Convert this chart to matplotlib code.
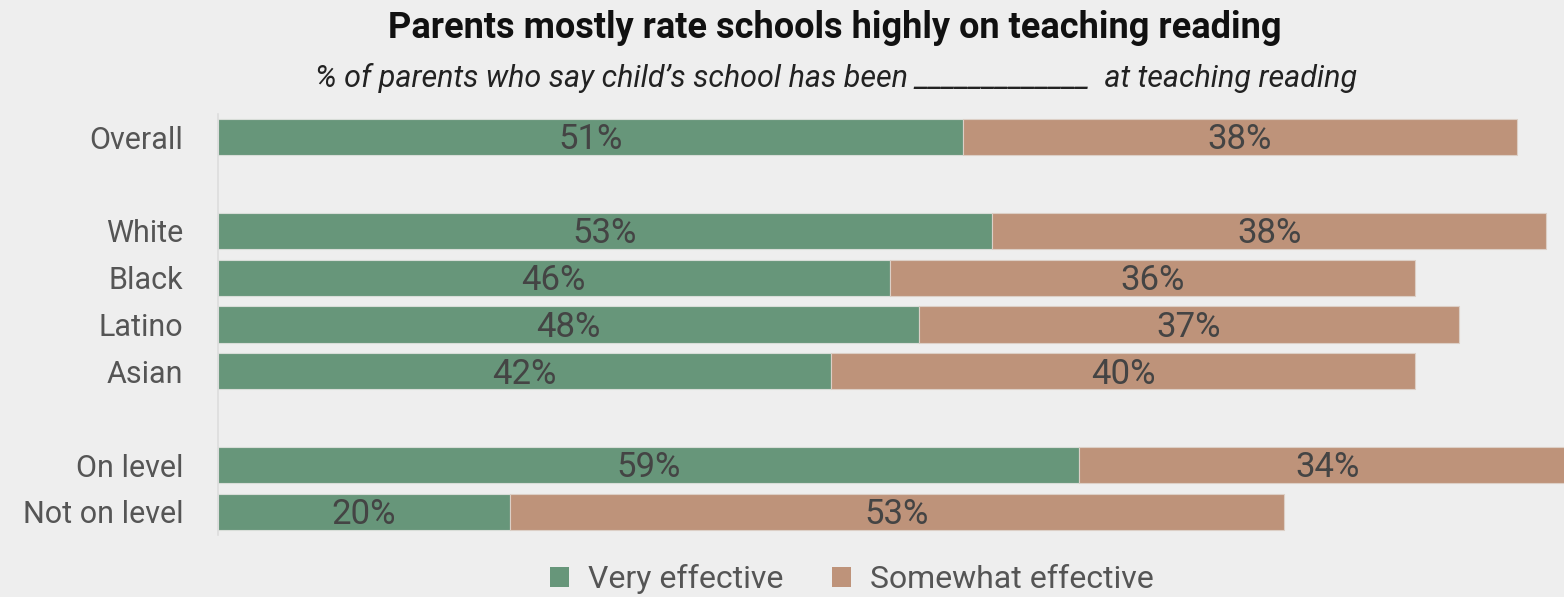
import matplotlib
matplotlib.use("Agg")
import matplotlib.pyplot as plt
from matplotlib.patches import Patch

# --- data ---
categories = ["Overall", "", "White", "Black", "Latino", "Asian", "", "On level", "Not on level"]
very_effective = [51, None, 53, 46, 48, 42, None, 59, 20]
somewhat_effective = [38, None, 38, 36, 37, 40, None, 34, 53]
series_names = ["Very effective", "Somewhat effective"]

title = "Parents mostly rate schools highly on teaching reading"
subtitle = "% of parents who say child\u2019s school has been _____________  at teaching reading"

# --- style ---
plt.rcParams["font.family"] = ["Roboto", "DejaVu Sans"]

BG = "#EEEEEE"
GREEN = "#67967A"
TAN = "#BE937A"
LABEL = "#555555"
VALUE = "#444444"

fig = plt.figure(figsize=(15.64, 5.97), dpi=100, facecolor=BG)
ax = fig.add_axes([218 / 1564, 0.1032, 1 - 218 / 1564, 0.7065], facecolor=BG)

rows = [i for i, v in enumerate(very_effective) if v is not None]
v1 = [very_effective[i] for i in rows]
v2 = [somewhat_effective[i] for i in rows]

bh = 0.77
ax.barh(rows, v1, height=bh, color=GREEN, edgecolor="#D8DDD8", linewidth=0.8)
ax.barh(rows, v2, left=v1, height=bh, color=TAN, edgecolor="#DCCFC6", linewidth=0.8)

# value labels centred in each segment
for r, a, b in zip(rows, v1, v2):
    ax.text(a / 2, r + 0.06, f"{a}%", ha="center", va="center",
            fontsize=25, color=VALUE)
    ax.text(a + b / 2, r + 0.06, f"{b}%", ha="center", va="center",
            fontsize=25, color=VALUE)

ax.set_xlim(0, 92.2)
ax.set_ylim(8.5, -0.5)
ax.set_yticks(rows)
ax.set_yticklabels([categories[i] for i in rows], fontsize=22, color=LABEL)
ax.tick_params(axis="y", length=0, pad=25)
ax.set_xticks([])
for s in ("top", "right", "bottom"):
    ax.spines[s].set_visible(False)
ax.spines["left"].set_color("#DDDDDD")
ax.spines["left"].set_linewidth(1.2)

fig.text(835 / 1564, 1 - 28 / 597, title, ha="center", va="center",
         fontsize=26, fontweight="bold", color="#111111")
fig.text(836 / 1564, 1 - 78 / 597, subtitle, ha="center", va="center",
         fontsize=22, fontstyle="italic", color="#222222")

handles = [Patch(facecolor=GREEN, edgecolor="none"), Patch(facecolor=TAN, edgecolor="none")]
fig.legend(handles, series_names, loc="center", bbox_to_anchor=(852 / 1564, 1 - 579 / 597),
           ncol=2, frameon=False, fontsize=23, labelcolor=LABEL,
           handlelength=0.6, handleheight=0.6, handletextpad=0.6, columnspacing=1.5)

fig.savefig("out.png", dpi=100, facecolor=BG)
